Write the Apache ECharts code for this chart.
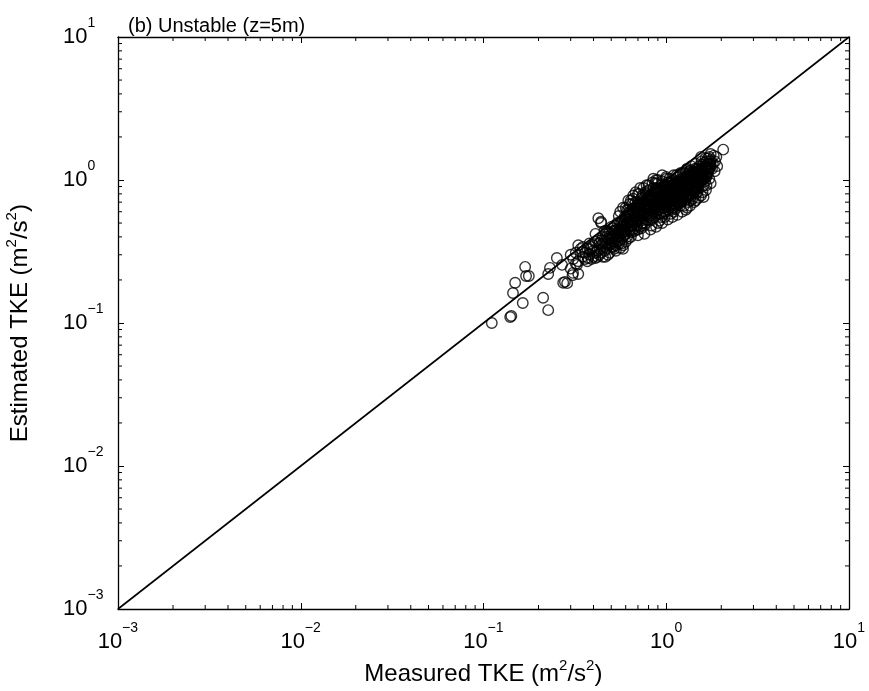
<!DOCTYPE html>
<html>
<head>
<meta charset="utf-8">
<script src="https://cdn.jsdelivr.net/npm/echarts@6/dist/echarts.min.js"></script>
<style>html,body{margin:0;padding:0;background:#fff;}#c{width:869px;height:691px;}</style>
</head>
<body>
<div id="c"></div>
<script>
// ---- data (m^2/s^2) ----
const titleText = '(b) Unstable (z=5m)';
const xAxisName = ['Measured TKE (m', '2', '/s', '2', ')'];
const yAxisName = ['Estimated TKE (m', '2', '/s', '2', ')'];
const axisMin = 0.001, axisMax = 10;
const oneToOneLine = [[0.001, 0.001], [10, 10]];

// sparse low-end points [measured, estimated]
const lowTailPoints = [
  [0.111,0.100],[0.140,0.110],[0.142,0.112],[0.145,0.162],[0.164,0.138],[0.149,0.191],
  [0.169,0.247],[0.171,0.213],[0.177,0.213],[0.212,0.150],[0.226,0.123],[0.231,0.243],
  [0.226,0.220],[0.252,0.285],[0.269,0.255],[0.279,0.194],[0.273,0.191],[0.287,0.190],
  [0.309,0.224],[0.325,0.255],[0.307,0.216],[0.330,0.350],[0.347,0.314],[0.374,0.285],
  [0.410,0.285],[0.464,0.290],[0.425,0.540],[0.440,0.510],[0.560,0.335],[0.506,0.460]
];
const clusterLow = [
  [0.30,0.24],[0.31,0.28],[0.32,0.31],[0.33,0.27],[0.34,0.33],[0.30,0.30],[0.35,0.29],[0.33,0.22],
  [0.36,0.31],[0.35,0.34],[0.32,0.26],[0.37,0.27],
  [0.38,0.30],[0.39,0.34],[0.40,0.29],[0.41,0.37],[0.42,0.32],[0.43,0.30],[0.44,0.35],[0.45,0.40],
  [0.38,0.36],[0.40,0.32],[0.42,0.38],[0.44,0.31],[0.45,0.33],[0.43,0.36],[0.39,0.28],[0.41,0.42],
  [0.44,0.50],[0.46,0.37],
  [0.47,0.33],[0.48,0.39],[0.49,0.35],[0.50,0.42],[0.51,0.37],[0.52,0.33],[0.53,0.45],[0.54,0.40],
  [0.55,0.36],[0.47,0.44],[0.49,0.31],[0.50,0.47],[0.52,0.41],[0.53,0.35],[0.54,0.50],[0.55,0.44],
  [0.48,0.36],[0.51,0.34],[0.53,0.39],[0.55,0.56],[0.52,0.48],[0.50,0.38],
  [0.36,0.28],[0.38,0.33],[0.40,0.35],[0.42,0.29],[0.44,0.38],[0.46,0.32],[0.47,0.40],[0.49,0.43],
  [0.51,0.40],[0.53,0.32],[0.54,0.37],[0.56,0.46],[0.58,0.33],[0.48,0.30],[0.45,0.29],[0.41,0.31],
  [0.37,0.33],[0.52,0.37],[0.50,0.34],[0.46,0.44],
  [0.45,0.36],[0.47,0.36],[0.49,0.39],[0.51,0.44],[0.53,0.42],[0.55,0.40],[0.57,0.47],[0.59,0.44],
  [0.56,0.50],[0.54,0.45],[0.52,0.44],[0.48,0.42],[0.50,0.36],[0.58,0.48],[0.60,0.42]
];
const clusterMid = [
  [0.56,0.38],[0.57,0.45],[0.58,0.52],[0.59,0.41],[0.60,0.48],[0.61,0.40],[0.62,0.58],[0.63,0.45],
  [0.64,0.52],[0.65,0.62],[0.56,0.60],[0.57,0.36],[0.58,0.43],[0.59,0.55],[0.60,0.64],[0.61,0.50],
  [0.62,0.39],[0.63,0.68],[0.64,0.44],[0.65,0.48],[0.57,0.50],[0.59,0.47],[0.61,0.56],[0.63,0.53],
  [0.65,0.43],[0.60,0.37],[0.62,0.47],[0.64,0.72],
  [0.66,0.45],[0.67,0.55],[0.68,0.62],[0.69,0.48],[0.70,0.70],[0.71,0.52],[0.72,0.60],[0.73,0.46],
  [0.74,0.78],[0.75,0.57],[0.76,0.65],[0.77,0.50],[0.78,0.72],[0.79,0.84],[0.80,0.60],[0.66,0.74],
  [0.67,0.44],[0.68,0.50],[0.69,0.66],[0.70,0.58],[0.71,0.80],[0.72,0.47],[0.73,0.68],[0.74,0.55],
  [0.75,0.88],[0.76,0.48],[0.77,0.62],[0.78,0.53],[0.79,0.68],[0.80,0.76],[0.67,0.64],[0.69,0.56],
  [0.71,0.62],[0.73,0.58],[0.75,0.72],[0.77,0.82],[0.79,0.58],[0.70,0.45],[0.74,0.50],[0.78,0.92],
  [0.58,0.40],[0.60,0.44],[0.62,0.50],[0.64,0.56],[0.66,0.60],[0.68,0.55],[0.70,0.52],[0.72,0.66],
  [0.74,0.62],[0.76,0.70],[0.78,0.64],[0.80,0.55],[0.57,0.42],[0.59,0.51],[0.61,0.45],[0.63,0.60],
  [0.65,0.52],[0.67,0.48],[0.69,0.60],[0.71,0.56],[0.73,0.74],[0.75,0.50],[0.77,0.68],[0.79,0.74],
  [0.76,0.42],[0.70,0.41],[0.64,0.40],[0.58,0.35],[0.70,0.80],[0.80,0.92],
  [0.60,0.55],[0.62,0.62],[0.64,0.48],[0.66,0.52],[0.68,0.70],[0.70,0.64],[0.72,0.54],[0.74,0.70],
  [0.76,0.58],[0.78,0.80],[0.80,0.68],[0.61,0.62],[0.63,0.50],[0.65,0.68],[0.67,0.58],[0.69,0.52],
  [0.71,0.68],[0.73,0.52],[0.75,0.64],[0.77,0.56],[0.79,0.64],
  [0.68,0.82],[0.72,0.88],[0.66,0.78],[0.62,0.72],[0.58,0.64]
];
const clusterCore = [
  [0.81,0.66],[0.82,0.52],[0.83,0.73],[0.84,0.60],[0.85,0.88],[0.86,0.55],[0.87,0.70],[0.88,0.80],
  [0.89,0.62],[0.90,0.95],[0.91,0.68],[0.92,0.52],[0.93,0.75],[0.94,0.85],[0.95,0.64],[0.96,0.78],
  [0.97,0.58],[0.98,0.92],[0.99,0.70],[1.00,0.82],[0.81,0.85],[0.83,0.48],[0.85,0.64],[0.87,0.95],
  [0.89,0.75],[0.91,0.58],[0.93,0.66],[0.95,0.98],[0.97,0.72],[0.99,0.60],[0.82,0.78],[0.84,0.70],
  [0.86,0.67],[0.88,0.57],[0.90,0.73],[0.92,0.88],[0.94,0.55],[0.96,0.68],[0.98,0.78],[1.00,0.66],
  [0.84,0.96],[0.88,1.00],[0.92,0.62],[0.96,0.90],[1.00,1.02],[0.90,0.50],[0.94,0.72],[0.98,0.55],
  [1.01,0.75],[1.02,0.62],[1.03,0.88],[1.04,0.70],[1.05,0.95],[1.06,0.58],[1.07,0.80],[1.08,0.68],
  [1.09,1.00],[1.10,0.74],[1.11,0.86],[1.12,0.63],[1.13,0.92],[1.14,0.78],[1.15,1.05],[1.16,0.70],
  [1.17,0.84],[1.18,0.96],[1.19,0.66],[1.20,0.88],[1.02,0.80],[1.04,1.02],[1.06,0.72],[1.08,0.90],
  [1.10,0.60],[1.12,0.78],[1.14,1.08],[1.16,0.92],[1.18,0.74],[1.20,1.00],[1.03,0.66],[1.05,0.76],
  [1.07,0.98],[1.09,0.64],[1.11,0.94],[1.13,0.72],[1.15,0.82],[1.17,0.68],[1.19,1.10],[1.06,0.85],
  [0.82,0.62],[0.84,0.76],[0.86,0.82],[0.88,0.66],[0.90,0.62],[0.92,0.78],[0.94,0.68],[0.96,0.60],
  [0.98,0.85],[1.00,0.75],[1.02,0.70],[1.04,0.86],[1.06,0.78],[1.08,0.62],[1.10,0.82],[1.12,0.96],
  [1.14,0.70],[1.16,0.86],[1.18,0.80],[1.20,0.72],[0.81,0.58],[0.83,0.66],[0.85,0.72],[0.87,0.60],
  [0.89,0.86],[0.91,0.76],[0.93,0.58],[0.95,0.80],[0.97,0.88],[0.99,0.77],[1.01,0.92],[1.03,0.74],
  [1.05,0.66],[1.07,0.86],[1.09,0.78],[1.11,0.68],[1.13,0.84],[1.15,0.74],[1.17,0.98],[1.19,0.86],
  [0.82,0.45],[0.88,0.47],[0.95,0.50],[1.02,0.53],[1.08,0.55],[1.15,0.57],[1.00,1.05],[1.10,1.08],
  [0.90,1.00],
  [0.82,0.72],[0.84,0.54],[0.86,0.75],[0.88,0.88],[0.90,0.68],[0.92,0.70],[0.94,0.92],[0.96,0.74],
  [0.98,0.66],[1.00,0.90],[1.02,0.96],[1.04,0.64],[1.06,0.92],[1.08,0.82],[1.10,0.68],[1.12,0.88],
  [1.14,0.96],[1.16,0.78],[1.18,0.88],[1.20,0.80],[0.81,0.76],[0.83,0.58],[0.85,0.80],[0.87,0.66],
  [0.89,0.70],[0.91,0.84],[0.93,0.82],[0.95,0.70],[0.97,0.64],[0.99,0.84],[1.01,0.68],[1.03,0.80],
  [1.05,0.86],[1.07,0.72],[1.09,0.88],[1.11,0.76],[1.13,0.66],[1.15,0.90],[1.17,0.76],[1.19,0.94],
  [0.85,1.02],[0.95,1.08]
];
const clusterHigh = [
  [1.22,0.80],[1.24,0.95],[1.26,0.72],[1.28,1.05],[1.30,0.86],[1.32,0.70],[1.34,1.15],[1.36,0.92],
  [1.38,0.80],[1.40,1.02],[1.42,0.88],[1.44,1.20],[1.46,0.95],[1.48,0.82],[1.50,1.10],[1.23,1.12],
  [1.25,0.66],[1.27,0.88],[1.29,1.18],[1.31,0.76],[1.33,0.98],[1.35,0.84],[1.37,1.25],[1.39,0.74],
  [1.41,1.12],[1.43,0.96],[1.45,1.30],[1.47,1.05],[1.49,0.90],[1.21,0.70],[1.35,1.06],[1.45,0.80],
  [1.52,1.25],[1.54,0.98],[1.56,1.35],[1.58,1.12],[1.60,0.92],[1.62,1.20],[1.64,1.42],[1.66,1.05],
  [1.68,1.30],[1.70,1.15],[1.72,1.45],[1.74,1.22],[1.76,1.38],[1.80,1.30],[1.82,1.48],[1.55,1.45],
  [1.65,1.10],[1.78,1.20],[1.75,1.52],[2.05,1.63],
  [1.22,0.92],[1.24,0.84],[1.26,1.00],[1.28,0.78],[1.30,0.96],[1.32,1.08],[1.34,0.88],[1.36,0.76],
  [1.38,1.10],[1.40,0.90],[1.42,1.05],[1.44,0.86],[1.46,1.15],[1.48,1.00],[1.50,0.88],[1.52,1.05],
  [1.54,1.18],[1.56,1.00],[1.58,1.28],[1.60,1.10],[1.62,1.02],[1.64,1.25],[1.66,1.35],[1.68,1.12],
  [1.70,1.28],[1.72,1.20],[1.74,1.35],[1.21,0.94],[1.23,0.76],[1.25,0.88],[1.27,1.12],[1.29,0.84],
  [1.31,0.92],[1.33,0.80],[1.35,1.16],[1.37,0.86],[1.39,0.98],[1.41,0.82],[1.43,1.14],[1.47,0.92],
  [1.49,1.20],[1.51,0.96],[1.53,1.12],[1.57,1.05],[1.61,1.32],[1.63,0.98],[1.67,1.20],[1.69,1.42],
  [1.73,1.30],[1.22,0.60],[1.28,0.62],[1.35,0.66],[1.42,0.70],[1.50,0.75],[1.58,0.82],[1.66,0.92],
  [1.72,1.02],[1.20,1.12],[1.30,1.20],
  [1.22,1.02],[1.24,0.74],[1.26,0.92],[1.28,0.88],[1.30,1.06],[1.32,0.90],[1.34,0.78],[1.36,1.00],
  [1.38,0.94],[1.40,1.15],[1.42,0.96],[1.44,1.04],[1.46,0.88],[1.48,1.12],[1.50,1.00],[1.52,1.16],
  [1.55,1.08],[1.58,1.20],[1.60,1.02],[1.21,0.84],[1.23,0.98],[1.25,0.80],[1.27,0.96],[1.29,0.76],
  [1.31,1.00],[1.33,1.12],[1.37,1.02],[1.39,0.88],[1.41,0.96],[1.43,0.84],[1.45,1.08],[1.47,1.20],
  [1.49,0.96],[1.53,1.00],[1.57,1.15],[1.63,1.12],[1.67,1.08],[1.71,1.22],[1.75,1.28],
  [1.45,0.72],[1.55,0.78],[1.65,0.85],[1.75,0.95],[1.60,0.76],[1.36,0.72],[1.30,0.64],[1.57,1.00],
  [1.85,1.35],[1.88,1.45],[1.90,1.25],[1.84,1.15]
];
// axis tick definitions
const majorExponents = [-3, -2, -1, 0, 1];
const minorMantissas = [2, 3, 4, 5, 6, 7, 8, 9];

const FONT = "'Liberation Sans', Arial, Helvetica, sans-serif";
const minorTickValues = [];
majorExponents.slice(0, -1).forEach(e => minorMantissas.forEach(m => minorTickValues.push(+(m * Math.pow(10, e)).toPrecision(3))));

const allPoints = [].concat(lowTailPoints, clusterLow, clusterMid, clusterCore, clusterHigh);

function powLabel(v) {
  const e = Math.round(Math.log10(v));
  return '{b|10}{s|' + String(e).replace('-', '\u2212') + '}{z| }';
}
const labelRich = {
  b: { fontSize: 22, lineHeight: 22, verticalAlign: 'bottom', fontFamily: FONT, color: '#000' },
  s: { fontSize: 14, lineHeight: 14, verticalAlign: 'top', fontFamily: FONT, color: '#000' },
  z: { fontSize: 1, lineHeight: 32, verticalAlign: 'top', fontFamily: FONT, color: '#000' }
};
const nameRich = {
  t: { fontSize: 24, lineHeight: 24, verticalAlign: 'bottom', fontFamily: FONT, color: '#000' },
  s: { fontSize: 15, lineHeight: 15, verticalAlign: 'top', fontFamily: FONT, color: '#000' },
  z: { fontSize: 1, lineHeight: 28, verticalAlign: 'top', fontFamily: FONT, color: '#000' }
};
function richName(parts) {
  return parts.map((p, i) => (i % 2 === 0 ? '{t|' + p + '}' : '{s|' + p + '}')).join('') + '{z| }';
}
const axisLineStyle = { show: true, lineStyle: { color: '#000', width: 1.3 } };
const tickStyle = { show: true, inside: true, length: 6, lineStyle: { color: '#000', width: 1 } };

function baseAxis(extra) {
  return Object.assign({
    type: 'log', logBase: 10, min: axisMin, max: axisMax,
    axisLine: axisLineStyle, axisTick: tickStyle, splitLine: { show: false },
    minorTick: { show: false }
  }, extra);
}

const chart = echarts.init(document.getElementById('c'), null, { renderer: 'canvas' });
chart.setOption({
  animation: false,
  backgroundColor: '#fff',
  title: {
    text: titleText, left: 123, top: 11,
    textStyle: { fontSize: 20, fontWeight: 'normal', fontFamily: FONT, color: '#000' }
  },
  grid: { left: 118, right: 20, top: 37, bottom: 82, containLabel: false, outerBoundsMode: 'none' },
  xAxis: [
    baseAxis({
      position: 'bottom',
      name: richName(xAxisName), nameLocation: 'middle', nameGap: 45,
      nameTextStyle: { rich: nameRich },
      axisLabel: { margin: 12, formatter: powLabel, rich: labelRich }
    }),
    baseAxis({ position: 'top', axisLabel: { show: false } })
  ],
  yAxis: [
    baseAxis({
      position: 'left',
      name: richName(yAxisName), nameLocation: 'middle', nameGap: 86,
      nameTextStyle: { rich: nameRich },
      axisLabel: { margin: 55, align: 'left', formatter: powLabel, rich: labelRich, padding: [0, 0, 10, 0] }
    }),
    baseAxis({ position: 'right', axisLabel: { show: false } })
  ],
  series: [
    {
      type: 'line', data: oneToOneLine, showSymbol: false, symbol: 'none',
      lineStyle: { color: '#000', width: 1.6 }, z: 3, silent: true
    },
    {
      type: 'scatter', data: allPoints, symbol: 'circle', symbolSize: 10.5,
      itemStyle: { color: 'rgba(0,0,0,0)', borderColor: '#000', borderWidth: 1.4 },
      z: 2, silent: true
    },
    {
      type: 'custom', silent: true, clip: false, z: 4,
      data: minorTickValues.map(v => [v, v]),
      encode: { x: 0, y: 1 },
      renderItem: function (params, api) {
        const v = api.value(0);
        const b = api.coord([v, axisMin]);
        const t = api.coord([v, axisMax]);
        const l = api.coord([axisMin, v]);
        const r = api.coord([axisMax, v]);
        const L = 4;
        const st = { stroke: '#000', lineWidth: 1 };
        return {
          type: 'group',
          children: [
            { type: 'line', shape: { x1: b[0], y1: b[1], x2: b[0], y2: b[1] - L }, style: st },
            { type: 'line', shape: { x1: t[0], y1: t[1], x2: t[0], y2: t[1] + L }, style: st },
            { type: 'line', shape: { x1: l[0], y1: l[1], x2: l[0] + L, y2: l[1] }, style: st },
            { type: 'line', shape: { x1: r[0], y1: r[1], x2: r[0] - L, y2: r[1] }, style: st }
          ]
        };
      }
    }
  ]
});
</script>
</body>
</html>
